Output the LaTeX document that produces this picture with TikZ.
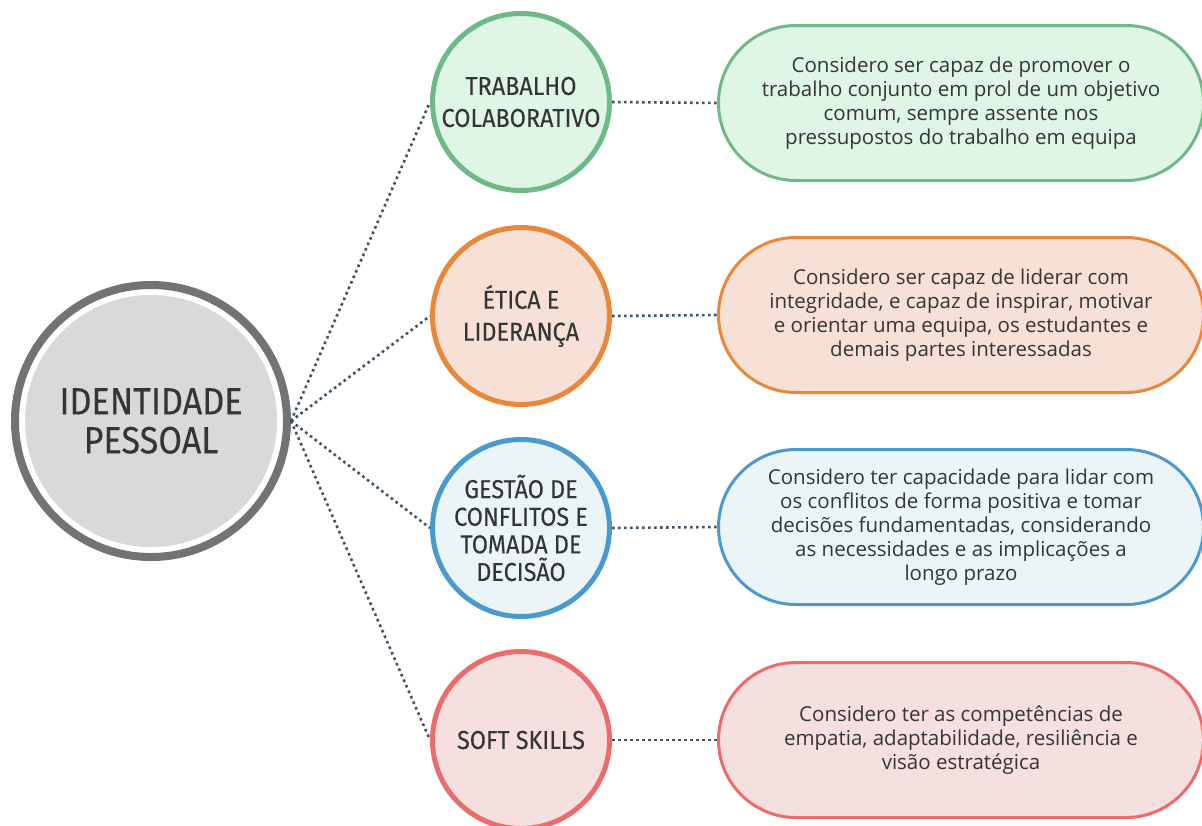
\documentclass[tikz,border=0pt]{standalone}
\usepackage{fontspec}
\setmainfont{Open Sans}
\newfontfamily\condfont[FakeStretch=0.9,FakeBold=0.12]{Fira Sans}
\usepackage{tikz}
\usetikzlibrary{calc}
\definecolor{idring}{HTML}{737373}
\definecolor{idfill}{HTML}{D9D9D9}
\definecolor{txt}{HTML}{353535}
\definecolor{dots}{HTML}{3D5366}
\definecolor{greenline}{HTML}{6DBA88}
\definecolor{greenfill}{HTML}{DFF5E6}
\definecolor{orangeline}{HTML}{E8883A}
\definecolor{orangefill}{HTML}{F7E0D6}
\definecolor{blueline}{HTML}{4A9ACE}
\definecolor{bluefill}{HTML}{EBF5F7}
\definecolor{redline}{HTML}{EC6B6B}
\definecolor{redfill}{HTML}{F5DFDF}

\begin{document}
\begin{tikzpicture}[x=0.5pt,y=-0.5pt,
  idnode/.style={circle,draw=idring,line width=4pt,fill=white,minimum size=136pt,inner sep=0pt,
    text=txt,font=\condfont\fontsize{19}{19.5}\selectfont,align=center,
    path picture={\fill[idfill] (path picture bounding box.center) circle (63pt);}},
  topic/.style={circle,draw=#1line,fill=#1fill,line width=2.5pt,minimum size=88.5pt,inner sep=0pt,
    text=txt,align=center},
  pill/.style={rectangle,rounded corners=38.7pt,draw=#1line,fill=#1fill,line width=1.5pt,
    minimum width=242.5pt,minimum height=77.5pt,inner sep=0pt,text=txt,align=center,
    font=\fontsize{10.25}{12}\selectfont},
  link/.style={draw=dots,line width=1.3pt,dash pattern=on 1.3pt off 1.7pt}]
\useasboundingbox (0,0) rectangle (1202,825);
\clip (0,0) rectangle (1202,825);

\node[idnode] (id) at (151,421) {IDENTIDADE\\PESSOAL};

\node[topic=green,font=\condfont\fontsize{13}{16}\selectfont] (trab) at (521,102) {TRABALHO\\COLABORATIVO};
\node[topic=orange,font=\condfont\fontsize{13}{16}\selectfont] (etica) at (521,316) {ÉTICA E\\LIDERANÇA};
\node[topic=blue,font=\condfont\fontsize{13}{13.8}\selectfont] (gest) at (521,528) {GESTÃO DE\\CONFLITOS E\\TOMADA DE\\DECISÃO};
\node[topic=red,font=\condfont\fontsize{13}{16}\selectfont] (soft) at (521,740) {SOFT SKILLS};

\node[pill=green] (ptrab) at (961,103) {Considero ser capaz de promover o\\trabalho conjunto em prol de um objetivo\\comum, sempre assente nos\\pressupostos do trabalho em equipa};
\node[pill=orange] (petica) at (961,315) {Considero ser capaz de liderar com\\integridade, e capaz de inspirar, motivar\\e orientar uma equipa, os estudantes e\\demais partes interessadas};
\node[pill=blue] (pgest) at (961,527) {Considero ter capacidade para lidar com\\os conflitos de forma positiva e tomar\\decisões fundamentadas, considerando\\as necessidades e as implicações a\\longo prazo};
\node[pill=red] (psoft) at (961,740) {Considero ter as competências de\\empatia, adaptabilidade, resiliência e\\visão estratégica};

\draw[link] (id.east) -- (trab.west);
\draw[link] (id.east) -- (etica.west);
\draw[link] (id.east) -- (gest.west);
\draw[link] (id.east) -- (soft.west);

\draw[link] (trab.east) -- (ptrab.west);
\draw[link] (etica.east) -- (petica.west);
\draw[link] (gest.east) -- (pgest.west);
\draw[link] (soft.east) -- (psoft.west);
\end{tikzpicture}
\end{document}
